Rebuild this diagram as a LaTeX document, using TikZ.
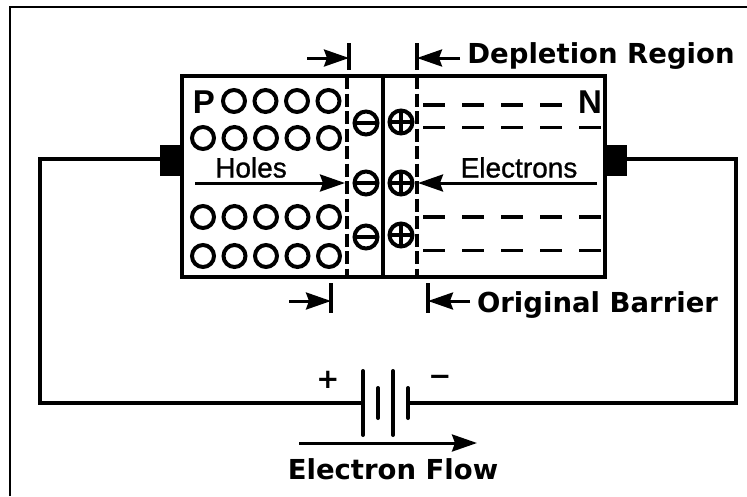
\documentclass[tikz,border=0pt]{standalone}
\usepackage{fontspec}
\setmainfont{DejaVu Sans}
\newfontfamily\inner[FakeBold=1]{Liberation Sans}
\newfontfamily\innerbf{Liberation Sans Bold}
\usetikzlibrary{arrows.meta}
\begin{document}
\begin{tikzpicture}[x=1pt, y=-1pt, line width=3.5pt, node distance=31.5pt,
        hole/.style = {draw, circle, line width=4pt, minimum size=22pt, inner sep=0pt},
        neg/.style = {draw, circle, line width=4pt, minimum size=23pt, inner sep=0pt, path picture={\draw (path picture bounding box.west) -- (path picture bounding box.east);}},
        posion/.style = {neg, path picture={\draw (path picture bounding box.west) -- (path picture bounding box.east); \draw (path picture bounding box.north) -- (path picture bounding box.south);}},
        plate/.style = {draw, fill=black, line width=0pt, minimum width=22pt, minimum height=30pt, inner sep=0pt},
        arr/.style = {line width=3pt, -{Stealth[length=25pt, width=17pt, inset=3pt]}},
        tick/.style = {line width=4pt},
        free/.style = {line width=4pt, dash pattern=on 22pt off 17pt},
        freethin/.style = {free, line width=3pt},
        barrier/.style = {line width=4pt, dash pattern=on 13pt off 4.5pt},
        caption/.style = {font=\bfseries\fontsize{27.5}{27.5}\selectfont, inner sep=0pt},
        carrier/.style = {font=\inner\fontsize{28}{28}\selectfont, inner sep=0pt},
        side/.style = {font=\innerbf\fontsize{33}{33}\selectfont, inner sep=0pt}]
        \useasboundingbox (0,0) rectangle (747,496);
        \draw[line width=1.5pt] (10,496) -- (10,7) -- (747,7);
        % crystal
        \node[draw, minimum width=423pt, minimum height=201pt, inner sep=0pt, line width=4pt] (body) at (393.5,176.5) {};
        \coordinate (jt) at (383,76);
        \coordinate (jb) at (383,277);
        \draw (jt) -- (jb);
        \coordinate (dlt) at (347,76);
        \coordinate (dlb) at (347,277);
        \coordinate (drt) at (417,76);
        \coordinate (drb) at (417,277);
        \draw[barrier] (dlt) -- (dlb);
        \draw[barrier] (drt) -- (drb);
        % holes
        \node[side] (p) at (204,102) {P};
        \node[hole] (h12) at (234,101) {};
        \node[hole] (h13) [right of=h12] {};
        \node[hole] (h14) [right of=h13] {};
        \node[hole] (h15) [right of=h14] {};
        \node[hole] (h21) at (203,138) {};
        \node[hole] (h22) [right of=h21] {};
        \node[hole] (h23) [right of=h22] {};
        \node[hole] (h24) [right of=h23] {};
        \node[hole] (h25) [right of=h24] {};
        \node[hole] (h31) at (203,217) {};
        \node[hole] (h32) [right of=h31] {};
        \node[hole] (h33) [right of=h32] {};
        \node[hole] (h34) [right of=h33] {};
        \node[hole] (h35) [right of=h34] {};
        \node[hole] (h41) at (203,256) {};
        \node[hole] (h42) [right of=h41] {};
        \node[hole] (h43) [right of=h42] {};
        \node[hole] (h44) [right of=h43] {};
        \node[hole] (h45) [right of=h44] {};
        % ions
        \node[neg] (m1) at (366,123) {};
        \node[neg] (m2) at (366,183) {};
        \node[neg] (m3) at (366,237) {};
        \node[posion] (a1) at (401,122) {};
        \node[posion] (a2) at (401,183) {};
        \node[posion] (a3) at (401,235) {};
        % electrons
        \node[side] (n) at (590,102) {N};
        \coordinate (e1a) at (423,105);
        \coordinate (e1b) at (566,105);
        \coordinate (e2a) at (423,127);
        \coordinate (e2b) at (604,127);
        \coordinate (e3a) at (423,217);
        \coordinate (e3b) at (604,217);
        \coordinate (e4a) at (423,250);
        \coordinate (e4b) at (604,250);
        \draw[free] (e1a) -- (e1b);
        \draw[freethin] (e2a) -- (e2b);
        \draw[free] (e3a) -- (e3b);
        \draw[freethin] (e4a) -- (e4b);
        \node[carrier] (holes) at (251,167.5) {Holes};
        \node[carrier] (electrons) at (519,167.5) {Electrons};
        \coordinate (ha) at (195,183);
        \coordinate (hb) at (345,183);
        \coordinate (ea) at (597,183);
        \coordinate (eb) at (418,183);
        \draw[arr] (ha) -- (hb);
        \draw[arr] (ea) -- (eb);
        % depletion marks
        \coordinate (t1a) at (349,43);
        \coordinate (t1b) at (349,70);
        \coordinate (t2a) at (417,43);
        \coordinate (t2b) at (417,70);
        \coordinate (t1) at (349,58);
        \coordinate (t2) at (417,58);
        \coordinate (t1s) at (307,58);
        \coordinate (t2s) at (460,58);
        \draw[tick] (t1a) -- (t1b);
        \draw[tick] (t2a) -- (t2b);
        \draw[arr] (t1s) -- (t1);
        \draw[arr] (t2s) -- (t2);
        \node[caption] (depl) at (601,56.5) {Depletion Region};
        % barrier marks
        \coordinate (b1a) at (331,283);
        \coordinate (b1b) at (331,313);
        \coordinate (b2a) at (428,283);
        \coordinate (b2b) at (428,313);
        \coordinate (b1) at (331,301);
        \coordinate (b2) at (428,301);
        \coordinate (b1s) at (289,301);
        \coordinate (b2s) at (470,301);
        \draw[tick] (b1a) -- (b1b);
        \draw[tick] (b2a) -- (b2b);
        \draw[arr] (b1s) -- (b1);
        \draw[arr] (b2s) -- (b2);
        \node[caption] (orig) at (597.5,305) {Original Barrier};
        % contacts and circuit
        \node[plate] (cl) at (171,160) {};
        \node[plate] (cr) at (615.5,160) {};
        \coordinate (wl) at (40,159);
        \coordinate (wlb) at (40,403);
        \coordinate (wr) at (736,159);
        \coordinate (wrb) at (736,403);
        \coordinate (bat1) at (363,403);
        \coordinate (bat2) at (408,403);
        \draw (cl.west |- wl) -- (wl) -- (wlb) -- (bat1);
        \draw (cr.east |- wr) -- (wr) -- (wrb) -- (bat2);
        \coordinate (p1a) at (363,371);
        \coordinate (p1b) at (363,435);
        \coordinate (p2a) at (378,388);
        \coordinate (p2b) at (378,418);
        \coordinate (p3a) at (393,371);
        \coordinate (p3b) at (393,435);
        \coordinate (p4a) at (408,388);
        \coordinate (p4b) at (408,418);
        \draw[tick, line cap=round] (p1a) -- (p1b);
        \draw[tick, line cap=round] (p2a) -- (p2b);
        \draw[tick, line cap=round] (p3a) -- (p3b);
        \draw[tick, line cap=round] (p4a) -- (p4b);
        \node[caption] (plus) at (328,380) {+};
        \node[caption] (minus) at (440,380) {−};
        \coordinate (fa) at (299,443);
        \coordinate (fb) at (477,443);
        \draw[arr] (fa) -- (fb);
        \node[caption] (flow) at (393,469) {Electron Flow};
\end{tikzpicture}
\end{document}
